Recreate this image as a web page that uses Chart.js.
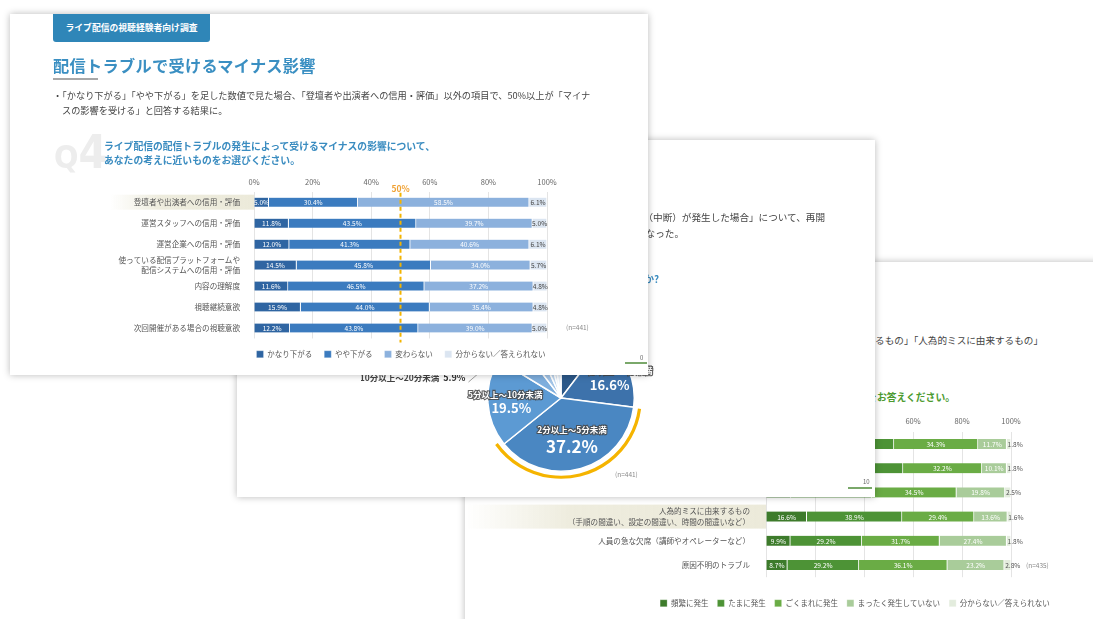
<!DOCTYPE html>
<html>
<head>
<meta charset="utf-8">
<script src="https://cdn.jsdelivr.net/npm/chart.js@4.4.1/dist/chart.umd.min.js"></script>
<style>
  body { margin: 0; width: 1093px; height: 619px; background: #fff; overflow: hidden; position: relative;
         font-family: "Noto Sans CJK JP", sans-serif; }
  .slide { position: absolute; background: #fff; box-shadow: 0 0 7px rgba(0,0,0,0.28); overflow: hidden; }
  .abs { position: absolute; white-space: nowrap; }
  canvas { position: absolute; }
</style>
</head>
<body>

<!-- 奥のスライド（緑の棒グラフ） -->
<div class="slide" style="left:465px; top:262px; width:700px; height:400px;">
  <div class="abs" style="right:122px; top:71px; font-size:9.6px; color:#444;">・「機材や設備に由来するもの」「回線やプラットフォームに由来するもの」「人為的ミスに由来するもの」</div>
  <div class="abs" style="right:210px; top:128px; font-size:9.8px; font-weight:bold; color:#4c9a2f;">トラブルの原因ごとに、発生頻度をお答えください。</div>
  <canvas id="chartBack" width="780" height="207" style="left:0; top:148px;"></canvas>
</div>

<!-- 真ん中のスライド（円グラフ） -->
<div class="slide" style="left:237px; top:140px; width:638px; height:357px;">
  <div class="abs" style="right:50px; top:70px; font-size:9.6px; color:#444;">・「ライブ配信中に配信トラブル（中断）が発生した場合」について、再開</div>
  <div class="abs" style="right:191px; top:86px; font-size:9.6px; color:#444;">まで待てる時間は「2分以上～5分未満」が最も多い結果になった。</div>
  <div class="abs" style="right:216px; top:132px; font-size:9.8px; font-weight:bold; color:#3a8cc0;">配信が中断した場合、再開までどのくらい待てますか?</div>
  <canvas id="chartPie" width="400" height="200" style="left:124px; top:158px;"></canvas>
  <div class="abs" style="left:378px; top:329px; font-size:6.5px; color:#888;">(n=441)</div>
  <div class="abs" style="left:626px; top:337px; font-size:6px; color:#666;">10</div>
  <div class="abs" style="left:611px; top:347px; width:24px; height:2px; background:#7aa86a;"></div>
</div>

<!-- 手前のスライド（青の棒グラフ） -->
<div class="slide" style="left:10px; top:14px; width:638px; height:361px;">
  <div class="abs" style="left:43px; top:0; width:157px; height:28px; background:#2f86b8; border-radius:0 0 3px 3px;
       color:#fff; font-size:8.8px; font-weight:bold; line-height:28px; text-align:center;">ライブ配信の視聴経験者向け調査</div>
  <div class="abs" style="left:43px; top:41px; font-size:16.2px; line-height:20px; font-weight:bold; color:#3a8fc2; letter-spacing:0.3px;">配信トラブルで受けるマイナス影響</div>
  <div class="abs" style="left:43px; top:64px; width:45px; height:2px; background:#a8a8a8;"></div>
  <div class="abs" style="left:43px; top:74px; font-size:9.2px; line-height:15px; color:#444;">・「かなり下がる」「やや下がる」を足した数値で見た場合、「登壇者や出演者への信用・評価」以外の項目で、50%以上が「マイナ</div>
  <div class="abs" style="left:52px; top:89px; font-size:9.2px; line-height:15px; color:#444;">スの影響を受ける」と回答する結果に。</div>
  <div class="abs" style="left:44px; top:116px; font-family:'DejaVu Sans Condensed'; font-weight:bold; color:#ededed; line-height:44px;">
    <span style="font-size:32px;">Q</span><span style="font-size:46px;">4</span></div>
  <div class="abs" style="left:94px; top:125px; font-size:9.8px; line-height:14px; font-weight:bold; color:#3a8cc0;">ライブ配信の配信トラブルの発生によって受けるマイナスの影響について、<br>あなたの考えに近いものをお選びください。</div>
  <canvas id="chartFront" width="602" height="196" style="left:90px; top:158px;"></canvas>
  <div class="abs" style="left:630px; top:339px; font-size:6px; color:#666;">0</div>
  <div class="abs" style="left:615px; top:348px; width:22px; height:2px; background:#7aa86a;"></div>
</div>

<script>
// 手前：マイナス影響（n=441）
const frontCategories = [
  "登壇者や出演者への信用・評価",
  "運営スタッフへの信用・評価",
  "運営企業への信用・評価",
  ["使っている配信プラットフォームや", "配信システムへの信用・評価"],
  "内容の理解度",
  "視聴継続意欲",
  "次回開催がある場合の視聴意欲"
];
const frontSeriesNames = ["かなり下がる", "やや下がる", "変わらない", "分からない／答えられない"];
const kanariSagaru = [5.0, 11.8, 12.0, 14.5, 11.6, 15.9, 12.2];
const yayaSagaru   = [30.4, 43.5, 41.3, 45.8, 46.5, 44.0, 43.8];
const kawaranai    = [58.5, 39.7, 40.6, 34.0, 37.2, 35.4, 39.0];
const wakaranai    = [6.1, 5.0, 6.1, 5.7, 4.8, 4.8, 5.0];
const percentTicks = [0, 20, 40, 60, 80, 100];

// 真ん中：再開まで待てる時間（n=441）
const pieLabels = ["1分未満", "1分以上～2分未満", "2分以上～5分未満", "5分以上～10分未満",
                   "10分以上～20分未満", "20分以上～30分未満", "30分以上～1時間未満", "1時間以上", "分からない"];
const pieValues = [10.4, 16.6, 37.2, 19.5, 5.9, 3.6, 2.5, 1.8, 2.5];

// 奥：トラブルの発生頻度（n=435）
const backCategories = [
  "機材や設備に由来するもの",
  "回線やネットワークに由来するもの",
  "配信プラットフォームに由来するもの",
  ["人為的ミスに由来するもの", "（手順の間違い、設定の間違い、時間の間違いなど）"],
  "人員の急な欠席（講師やオペレーターなど）",
  "原因不明のトラブル"
];
const backSeriesNames = ["頻繁に発生", "たまに発生", "ごくまれに発生", "まったく発生していない", "分からない／答えられない"];
const hinpan   = [14.7, 16.1, 10.2, 16.6, 9.9, 8.7];
const tamani   = [37.5, 39.8, 33.0, 38.9, 29.2, 29.2];
const gokumare = [34.3, 32.2, 34.5, 29.4, 31.7, 36.1];
const mattaku  = [11.7, 10.1, 19.8, 13.6, 27.4, 23.2];
const wakaranaiB = [1.8, 1.8, 2.5, 1.6, 1.8, 2.8];

Chart.defaults.font.family = '"Noto Sans CJK JP", sans-serif';
Chart.defaults.animation = false;

// 棒の中の数値ラベル
const segmentLabels = {
  id: 'segmentLabels',
  afterDatasetsDraw(chart, args, opts) {
    const ctx = chart.ctx;
    const last = chart.data.datasets.length - 1;
    ctx.save();
    ctx.font = opts.font;
    ctx.textBaseline = 'middle';
    chart.data.datasets.forEach((ds, i) => {
      chart.getDatasetMeta(i).data.forEach((bar, j) => {
        const txt = ds.data[j].toFixed(1) + '%';
        const left = Math.min(bar.x, bar.base);
        const right = Math.max(bar.x, bar.base);
        ctx.fillStyle = opts.colors[i];
        if (opts.lastOutside && i === last) {
          ctx.textAlign = 'left';
          ctx.fillText(txt, left + 1, bar.y + 0.5);
        } else {
          ctx.textAlign = 'center';
          ctx.fillText(txt, (left + right) / 2, bar.y + 0.5);
        }
      });
    });
    ctx.restore();
  }
};

// 強調する行の背景と (n=…) の表示
const rowDecor = {
  id: 'rowDecor',
  beforeDraw(chart, args, opts) {
    const ctx = chart.ctx;
    const y = chart.scales.y.getPixelForValue(opts.row);
    const a = chart.chartArea;
    const g = ctx.createLinearGradient(opts.fromX, 0, a.left, 0);
    g.addColorStop(0, 'rgba(236,234,218,0)');
    g.addColorStop(0.35, 'rgba(236,234,218,0.9)');
    g.addColorStop(1, 'rgba(236,234,218,1)');
    ctx.save();
    ctx.fillStyle = g;
    ctx.fillRect(opts.fromX, y - opts.half, a.left - opts.fromX, opts.half * 2);
    ctx.restore();
  },
  afterDraw(chart, args, opts) {
    const ctx = chart.ctx;
    const n = chart.data.labels.length - 1;
    ctx.save();
    ctx.font = '6.5px "Noto Sans CJK JP"';
    ctx.fillStyle = '#888';
    ctx.textBaseline = 'middle';
    ctx.fillText(opts.nText, chart.chartArea.right + opts.nGap, chart.scales.y.getPixelForValue(n));
    ctx.restore();
  }
};

// 50%の点線
const halfLine = {
  id: 'halfLine',
  afterDatasetsDraw(chart) {
    const ctx = chart.ctx;
    const x = chart.scales.x.getPixelForValue(50);
    const a = chart.chartArea;
    ctx.save();
    ctx.strokeStyle = '#f3b400';
    ctx.lineWidth = 2;
    ctx.setLineDash([4, 3]);
    ctx.beginPath();
    ctx.moveTo(x, a.top + 1);
    ctx.lineTo(x, a.bottom + 4);
    ctx.stroke();
    ctx.setLineDash([]);
    ctx.font = 'bold 8.5px "Noto Sans CJK JP"';
    ctx.fillStyle = '#f0a030';
    ctx.textAlign = 'center';
    ctx.textBaseline = 'middle';
    ctx.fillText('50%', x, a.top - 3);
    ctx.restore();
  }
};

function fixedWidth(w) { return s => { s.width = w; }; }
function fixedHeight(h) { return s => { s.height = h; }; }
// 右側の余白用の見えない軸
function spacerAxis(w) {
  return { type: 'linear', position: 'right', display: true, afterFit: fixedWidth(w),
           ticks: { display: false }, grid: { display: false }, border: { display: false } };
}

// 手前のグラフ
const frontColors = ['#2f65a2', '#3b7bbf', '#8cb1dd', '#dbe5f1'];
const frontData = [kanariSagaru, yayaSagaru, kawaranai, wakaranai];
new Chart(document.getElementById('chartFront'), {
  type: 'bar',
  data: {
    labels: frontCategories,
    datasets: frontData.map((d, i) => ({
      label: frontSeriesNames[i], data: d, backgroundColor: frontColors[i],
      borderColor: '#fff', borderWidth: { left: 0, right: 1, top: 0, bottom: 0 }, borderSkipped: false,
      barThickness: 9
    }))
  },
  options: {
    indexAxis: 'y',
    responsive: false,
    layout: { padding: 0 },
    scales: {
      x: {
        position: 'top', stacked: true, min: 0, max: 100,
        afterFit: fixedHeight(19.7),
        afterBuildTicks: s => { s.ticks = percentTicks.map(v => ({ value: v })); },
        ticks: { callback: v => v + '%', font: { size: 7.5 }, color: '#666', padding: 5 },
        grid: { color: '#e4e4e4', drawTicks: false },
        border: { display: false }
      },
      y: {
        stacked: true,
        afterFit: fixedWidth(154),
        ticks: { autoSkip: false, font: { size: 7.6, lineHeight: 1.35 }, color: '#555', padding: 6 },
        grid: { display: false },
        border: { display: false }
      },
      yr: spacerAxis(155)
    },
    plugins: {
      legend: {
        position: 'bottom',
        labels: { boxWidth: 7, boxHeight: 7, padding: 12, font: { size: 7.5 }, color: '#555' }
      },
      tooltip: { enabled: false },
      segmentLabels: { font: '6.6px "Noto Sans CJK JP"', colors: ['#fff', '#fff', '#fff', '#444'] },
      rowDecor: { row: 0, fromX: 10, half: 7.5, nText: '(n=441)', nGap: 19 }
    }
  },
  plugins: [rowDecor, segmentLabels, halfLine]
});

// 円グラフの装飾（オレンジの弧とラベル）
const pieDecor = {
  id: 'pieDecor',
  afterDatasetsDraw(chart, args, opts) {
    const ctx = chart.ctx;
    const arcs = chart.getDatasetMeta(0).data;
    const vals = chart.data.datasets[0].data;
    const names = chart.data.labels;
    ctx.save();
    const big = arcs[opts.highlight];
    ctx.strokeStyle = '#f5b400';
    ctx.lineWidth = 3.2;
    ctx.beginPath();
    ctx.arc(big.x, big.y, big.outerRadius + 6, big.startAngle + 0.01, big.endAngle + 0.06);
    ctx.stroke();

    ctx.textAlign = 'center';
    ctx.textBaseline = 'middle';
    opts.inside.forEach(it => {
      const a = arcs[it.index];
      const mid = (a.startAngle + a.endAngle) / 2;
      const cx = a.x + Math.cos(mid) * a.outerRadius * it.r;
      const cy = a.y + Math.sin(mid) * a.outerRadius * it.r;
      ctx.font = 'bold 8.5px "Noto Sans CJK JP"';
      ctx.lineWidth = 2.2;
      ctx.strokeStyle = 'rgba(70,70,70,0.85)';
      ctx.strokeText(names[it.index], cx + it.dx, cy - 7);
      ctx.fillStyle = '#fff';
      ctx.fillText(names[it.index], cx + it.dx, cy - 7);
      ctx.font = 'bold ' + it.size + 'px "Noto Sans CJK JP"';
      ctx.fillText(vals[it.index].toFixed(1) + '%', cx, cy + it.gap);
    });

    const o = arcs[opts.outside];
    const m = (o.startAngle + o.endAngle) / 2;
    const ex = o.x + Math.cos(m) * o.outerRadius;
    const ey = o.y + Math.sin(m) * o.outerRadius;
    const lx = ex - 38, ly = ey + 33;
    ctx.strokeStyle = '#888';
    ctx.lineWidth = 0.8;
    ctx.beginPath();
    ctx.moveTo(ex, ey);
    ctx.lineTo(lx, ly);
    ctx.stroke();
    ctx.textAlign = 'right';
    ctx.fillStyle = '#333';
    ctx.font = 'bold 9px "Noto Sans CJK JP"';
    const pct = vals[opts.outside].toFixed(1) + '%';
    ctx.fillText(pct, lx - 3, ly - 4);
    const pw = ctx.measureText(pct).width;
    ctx.font = 'bold 8.5px "Noto Sans CJK JP"';
    ctx.fillStyle = '#444';
    ctx.fillText(names[opts.outside], lx - 7 - pw, ly - 4);
    ctx.restore();
  }
};

new Chart(document.getElementById('chartPie'), {
  type: 'pie',
  data: {
    labels: pieLabels,
    datasets: [{
      data: pieValues,
      backgroundColor: ['#2c5888', '#3d72ab', '#4a87c2', '#5c9ad3', '#7eaedd', '#a2c4e7', '#bed6ee', '#d3e3f4', '#e6eff9'],
      borderColor: '#fff', borderWidth: 1.5
    }]
  },
  options: {
    responsive: false,
    layout: { padding: 26 },
    plugins: {
      legend: { display: false },
      tooltip: { enabled: false },
      pieDecor: {
        highlight: 2, outside: 4,
        inside: [
          { index: 1, r: 0.72, dx: 8, gap: 7, size: 13 },
          { index: 2, r: 0.55, dx: 0, gap: 10, size: 17 },
          { index: 3, r: 0.68, dx: -6, gap: 7, size: 13 }
        ]
      }
    }
  },
  plugins: [pieDecor]
});

// 奥のグラフ
const backColors = ['#3d7b2b', '#4d9336', '#6aac45', '#a9cc9a', '#e3ecdd'];
const backData = [hinpan, tamani, gokumare, mattaku, wakaranaiB];
new Chart(document.getElementById('chartBack'), {
  type: 'bar',
  data: {
    labels: backCategories,
    datasets: backData.map((d, i) => ({
      label: backSeriesNames[i], data: d, backgroundColor: backColors[i],
      borderColor: '#fff', borderWidth: { left: 0, right: 1, top: 0, bottom: 0 }, borderSkipped: false,
      barThickness: 10
    }))
  },
  options: {
    indexAxis: 'y',
    responsive: false,
    layout: { padding: 0 },
    scales: {
      x: {
        position: 'top', stacked: true, min: 0, max: 100,
        afterFit: fixedHeight(21.8),
        afterBuildTicks: s => { s.ticks = percentTicks.map(v => ({ value: v })); },
        ticks: { callback: v => v + '%', font: { size: 7.5 }, color: '#666', padding: 6 },
        grid: { color: '#e4e4e4', drawTicks: false },
        border: { display: false }
      },
      x2: {
        type: 'linear', position: 'bottom', display: true,
        afterFit: fixedHeight(13.3),
        ticks: { display: false }, grid: { display: false }, border: { display: false }
      },
      y: {
        stacked: true,
        afterFit: fixedWidth(301),
        ticks: { autoSkip: false, font: { size: 7.6, lineHeight: 1.35 }, color: '#555', padding: 8 },
        grid: { display: false },
        border: { display: false }
      },
      yr: spacerAxis(234)
    },
    plugins: {
      legend: {
        position: 'bottom',
        labels: { boxWidth: 7, boxHeight: 7, padding: 9, font: { size: 7.5 }, color: '#555' }
      },
      tooltip: { enabled: false },
      segmentLabels: { font: '6.6px "Noto Sans CJK JP"', colors: ['#fff', '#fff', '#fff', '#fff', '#555'], lastOutside: true },
      rowDecor: { row: 3, fromX: 0, half: 12, nText: '(n=435)', nGap: 15 }
    }
  },
  plugins: [rowDecor, segmentLabels]
});
</script>
</body>
</html>
